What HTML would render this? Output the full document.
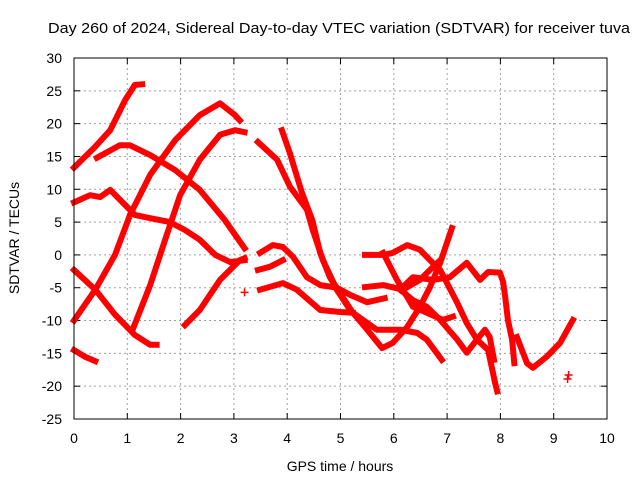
<!DOCTYPE html>
<html><head><meta charset="utf-8"><style>
body{margin:0;background:#fff;}
svg{display:block;font-family:"Liberation Sans",sans-serif;}
</style></head><body>
<svg id="chart" width="640" height="480" viewBox="0 0 640 480">
<rect x="0" y="0" width="640" height="480" fill="#fff"/>
<text x="339" y="33" font-size="15" text-anchor="middle" textLength="582" lengthAdjust="spacingAndGlyphs" fill="#000">Day 260 of 2024, Sidereal Day-to-day VTEC variation (SDTVAR) for receiver tuva</text>
<text x="0" y="0" font-size="14" text-anchor="middle" transform="translate(19,238) rotate(-90)">SDTVAR / TECUs</text>
<text x="340" y="471" font-size="14" text-anchor="middle">GPS time / hours</text>
<g id="grid"></g>
<g id="axes"></g>
<g id="series"></g>
<rect x="74" y="58" width="533" height="361" fill="none" stroke="#000" stroke-width="1"/>
</svg>
<script>
const xTicks=[0,1,2,3,4,5,6,7,8,9,10];
const yTicks=[30,25,20,15,10,5,0,-5,-10,-15,-20,-25];
const trackA=[[0,13.3],[0.4,16.5],[0.68,19],[0.96,23.6],[1.14,25.9],[1.28,26]];
const trackB=[[0.43,14.8],[0.86,16.7],[1.05,16.7],[1.43,15.2],[1.9,12.9],[2.36,9.9],[2.83,5.3],[3.2,1.0]];
const trackC=[[0,8],[0.3,9.1],[0.49,8.8],[0.68,9.9],[0.96,7.6],[1.14,6.1],[1.43,5.6],[1.8,5.0],[2.08,3.8],[2.36,2.3],[2.65,0],[2.93,-1.1],[3.2,-0.8]];
const trackD=[[0,-2.3],[0.4,-5.3],[0.77,-9.1],[1.14,-12.2],[1.43,-13.7],[1.55,-13.7]];
const trackE=[[0,-10],[0.4,-5.3],[0.77,0],[1.05,6.1],[1.43,12.2],[1.9,17.5],[2.36,21.3],[2.74,23.1],[3.02,21.3],[3.11,20.5]];
const trackF=[[0,-14.5],[0.2,-15.5],[0.4,-16.2]];
const trackG=[[1.1,-11.4],[1.43,-4.6],[1.71,2.3],[1.99,9.1],[2.36,14.5],[2.74,18.3],[3.02,19],[3.2,18.7]];
const trackH=[[2.08,-10.7],[2.36,-8.4],[2.74,-3.8],[3.11,-0.8],[3.2,-0.5]];
const trackI=[[3.9,19],[4.05,15.5],[4.28,9.4],[4.47,5.3],[4.62,0.3],[4.8,-3.4],[4.99,-5.8],[5.23,-8.8],[5.5,-11.4],[5.78,-14.2],[5.98,-13.4],[6.25,-11],[6.49,-7.9],[6.68,-4.9],[6.87,-1.2],[7.09,4.1]];
const trackJ=[[3.45,17.2],[3.81,14.5],[4.05,10.4],[4.37,6.9],[4.48,3.8],[4.67,-0.8],[4.93,-5.3],[5.18,-8.4],[5.23,-8.8],[5.68,-11.4],[6.12,-11.4],[6.44,-11.9],[6.62,-12.9],[6.9,-16]];
const trackK=[[3.49,0.3],[3.73,1.5],[3.92,1.2],[4.11,-0.3],[4.37,-3.4],[4.62,-4.6],[4.93,-5.0],[5.18,-6.1],[5.5,-7.2],[5.83,-6.6]];
const trackL=[[3.49,-5.3],[3.92,-4.3],[4.18,-5.3],[4.62,-8.4],[4.99,-8.7],[5.23,-8.8]];
const trackM=[[3.45,-2.3],[3.68,-1.8],[3.92,-0.8]];
const trackN=[[5.46,0],[5.8,0],[5.98,0.3],[6.25,1.5],[6.49,0.8],[6.68,-0.8],[6.87,-2.3],[7.19,-7.3],[7.37,-10.4],[7.56,-12.9],[7.77,-14.5],[7.9,-19.5],[7.94,-20.8]];
const trackO=[[5.8,0.3],[5.87,-0.8],[6.06,-3.8],[6.17,-5.3],[6.36,-7.9],[6.62,-8.8],[6.92,-9.9],[7.11,-9.4]];
const trackQ=[[5.46,-4.9],[5.8,-4.6],[6.17,-5.3],[6.49,-3.8],[6.74,-1.8],[6.87,-0.8]];
const trackQ2=[[6.12,-5.3],[6.36,-6.9],[6.62,-7.9],[6.87,-9.9],[7.19,-12.9],[7.37,-14.9],[7.56,-12.9],[7.71,-11.4],[7.8,-12.5],[7.88,-16]];
const trackR=[[6.12,-5.3],[6.36,-3.4],[6.74,-3.8],[7.05,-3.4],[7.37,-1.2],[7.62,-3.8],[7.77,-2.6],[7.99,-2.7],[8.05,-4.1],[8.09,-6.4],[8.14,-9.9],[8.22,-12.9],[8.26,-16.5]];
const trackS=[[8.31,-12.5],[8.5,-16.5],[8.61,-17.2],[8.87,-15.5],[9.12,-13.4],[9.36,-9.9]];
const singlePoints=[[3.2,-5.7],[9.28,-18.3],[9.26,-18.9]];
const tracks=[trackA,trackB,trackC,trackD,trackE,trackF,trackG,trackH,trackI,trackJ,trackK,trackL,trackM,trackN,trackO,trackQ,trackQ2,trackR,trackS];

const X0=74,X1=607,Y0=419,Y1=58,xmin=0,xmax=10,ymin=-25,ymax=30;
function sx(v){return X0+(v-xmin)/(xmax-xmin)*(X1-X0);}
function sy(v){return Y0-(v-ymin)/(ymax-ymin)*(Y0-Y1);}
const NS="http://www.w3.org/2000/svg";
const grid=document.getElementById('grid'),axes=document.getElementById('axes'),series=document.getElementById('series');
function mk(tag,attrs,parent){const e=document.createElementNS(NS,tag);for(const k in attrs)e.setAttribute(k,attrs[k]);parent.appendChild(e);return e;}
xTicks.forEach(t=>{
  const x=sx(t);
  if(t>xmin&&t<xmax){const g=mk('line',{x1:x,x2:x,y1:Y1,y2:Y0,stroke:'#a0a0a0','stroke-dasharray':'2,3','stroke-width':1},grid);
  
  }
  const tk=mk('line',{x1:x,x2:x,y1:Y0,y2:Y0-6,stroke:'#000'},axes);
  
  
  const tk2=mk('line',{x1:x,x2:x,y1:Y1,y2:Y1+6,stroke:'#000'},axes);
  
  
  const lb=mk('text',{x:x,y:443,'font-size':14,'text-anchor':'middle'},axes);lb.textContent=t;
  
  
});
yTicks.forEach(t=>{
  const y=sy(t);
  if(t>ymin&&t<ymax){const g=mk('line',{x1:X0,x2:X1,y1:y,y2:y,stroke:'#a0a0a0','stroke-dasharray':'2,3','stroke-width':1},grid);
  
  }
  const tk=mk('line',{x1:X0,x2:X0+6,y1:y,y2:y,stroke:'#000'},axes);
  
  
  const tk2=mk('line',{x1:X1,x2:X1-6,y1:y,y2:y,stroke:'#000'},axes);
  
  
  const lb=mk('text',{x:62,y:y+5,'font-size':14,'text-anchor':'end'},axes);lb.textContent=t;
  
  
});
tracks.forEach(tr=>{
  const pts=tr.map(p=>sx(p[0]).toFixed(1)+','+sy(p[1]).toFixed(1)).join(' ');
  const pl=mk('polyline',{points:pts,fill:'none',stroke:'#ff0000','stroke-width':6,'stroke-linejoin':'round','stroke-linecap':'square'},series);
  
  
});
singlePoints.forEach(p=>{
  const x=sx(p[0]),y=sy(p[1]);
  const m=mk('path',{d:`M${x-4},${y}H${x+4}M${x},${y-4}V${y+4}`,stroke:'#ff0000','stroke-width':1.5},series);
  
  
});
</script>
</body></html>
